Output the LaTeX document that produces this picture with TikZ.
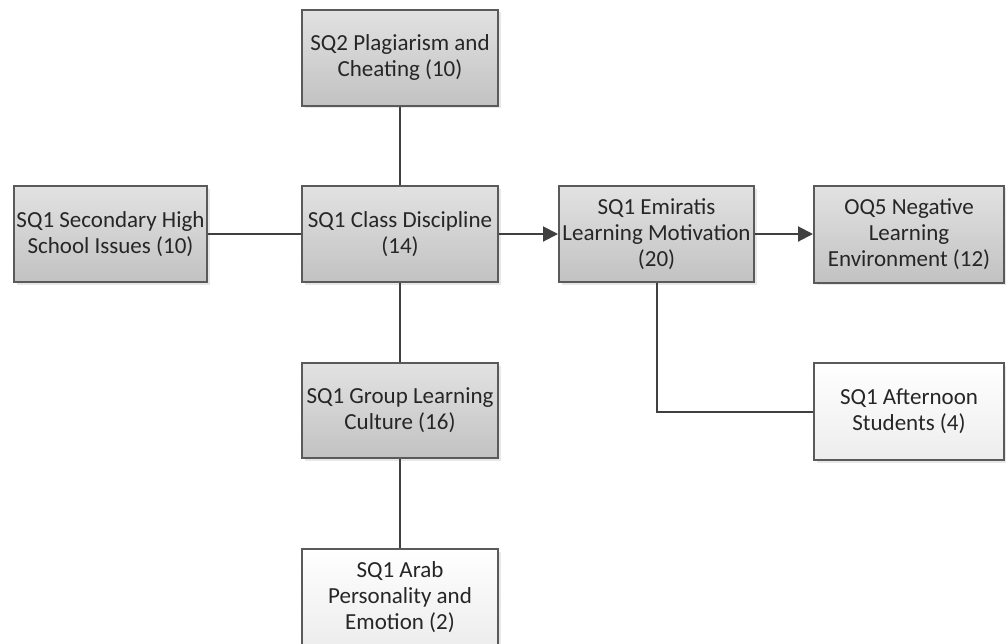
\documentclass[tikz,border=0pt]{standalone}
\usepackage{fontspec}
\setmainfont{Carlito}
\usetikzlibrary{arrows.meta,shadows}
\definecolor{boxline}{HTML}{5A5A5A}
\definecolor{linkline}{HTML}{404040}
\definecolor{graytop}{HTML}{E2E2E2}
\definecolor{graybot}{HTML}{C2C2C2}
\definecolor{whitebot}{HTML}{EDEDED}
\begin{document}
\begin{tikzpicture}[x=1pt,y=-1pt,
  theme/.style={draw=boxline, line width=2pt, align=center, inner sep=1pt,
    minimum width=196pt, minimum height=96pt, text=black!85,
    font=\fontsize{23}{26}\selectfont,
    drop shadow={opacity=0.18, shadow xshift=2.5pt, shadow yshift=-2.5pt}},
  graybox/.style={theme, top color=graytop, bottom color=graybot},
  whitebox/.style={theme, top color=white, bottom color=whitebot},
  link/.style={draw=linkline, line width=2pt},
  arrowlink/.style={link, -{Triangle[length=15pt,width=15pt]}}]
\useasboundingbox (0,0) rectangle (1006,643);
\node[graybox] (plag) at (400,57.5) {SQ2 Plagiarism and\\Cheating (10)};
\node[graybox, minimum width=193pt] (second) at (110.5,234) {SQ1 Secondary High\\School Issues (10)};
\node[graybox] (class) at (400,234) {SQ1 Class Discipline\\(14)};
\node[graybox, minimum width=195pt] (emir) at (656.5,234) {SQ1 Emiratis\\Learning Motivation\\(20)};
\node[graybox, minimum width=190pt, minimum height=97pt] (neg) at (909,234) {OQ5 Negative\\Learning\\Environment (12)};
\node[graybox, minimum height=95pt] (group) at (400,410.5) {SQ1 Group Learning\\Culture (16)};
\node[whitebox, minimum width=190pt, minimum height=97pt] (after) at (909,411.5) {SQ1 Afternoon\\Students (4)};
\node[whitebox] (arab) at (400,597) {SQ1 Arab\\Personality and\\Emotion (2)};
\draw[link] (plag) -- (class);
\draw[link] (second) -- (class);
\draw[arrowlink] (class) -- (emir);
\draw[arrowlink] (emir) -- (neg);
\draw[link] (class) -- (group);
\draw[link] (group) -- (arab);
\draw[link] (emir) |- (after);
\end{tikzpicture}
\end{document}
